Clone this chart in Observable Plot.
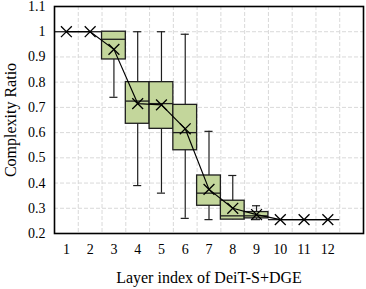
<!DOCTYPE html>
<html>
<head>
<meta charset="utf-8">
<script src="https://cdn.jsdelivr.net/npm/d3@7"></script>
<script src="https://cdn.jsdelivr.net/npm/@observablehq/plot@0.6"></script>
<style>
  html, body { margin: 0; padding: 0; background: #fff; }
</style>
</head>
<body>
<div id="chart"></div>
<script>
const layers      = [1, 2, 3, 4, 5, 6, 7, 8, 9, 10, 11, 12];
const whiskerLow  = [1.0, 1.0, 0.74, 0.39, 0.36, 0.26, 0.255, 0.255, 0.255, 0.255, 0.255, 0.255];
const q1          = [1.0, 1.0, 0.89, 0.635, 0.615, 0.53, 0.31, 0.255, 0.26, 0.255, 0.255, 0.255];
const median      = [1.0, 1.0, 0.97, 0.725, 0.715, 0.60, 0.36, 0.27, 0.27, 0.255, 0.255, 0.255];
const q3          = [1.0, 1.0, 1.0, 0.80, 0.80, 0.71, 0.43, 0.33, 0.285, 0.255, 0.255, 0.255];
const whiskerHigh = [1.0, 1.0, 1.0, 1.0, 1.0, 0.99, 0.605, 0.43, 0.31, 0.255, 0.255, 0.255];
const mean        = [1.0, 1.0, 0.93, 0.715, 0.71, 0.615, 0.375, 0.30, 0.275, 0.255, 0.255, 0.255];
const yTicks      = [0.2, 0.3, 0.4, 0.5, 0.6, 0.7, 0.8, 0.9, 1.0, 1.1];
const xLabel = "Layer index of DeiT-S+DGE";
const yLabel = "Complexity Ratio";

const data = layers.map((l, i) => ({
  layer: l, lo: whiskerLow[i], q1: q1[i], med: median[i], q3: q3[i], hi: whiskerHigh[i], mean: mean[i]
}));
const half = 0.5, cap = 0.17;
const gridX = layers.map(l => l + 0.5);
const gridY = yTicks.filter(v => v > 0.2 && v < 1.1);

const chart = Plot.plot({
  width: 366,
  height: 289,
  marginLeft: 54,
  marginRight: 3,
  marginTop: 6,
  marginBottom: 56,
  style: { fontFamily: "'Liberation Serif', 'Times New Roman', serif", fontSize: "14px", color: "#000", background: "#fff" },
  x: { domain: [0.5, 13.5], ticks: layers, tickSize: 0, tickPadding: 11, tickFormat: d => String(d), label: null },
  y: { domain: [0.2, 1.1], ticks: yTicks, tickSize: 0, tickPadding: 9, tickFormat: d => String(+d.toFixed(1)), label: null },
  marks: [
    Plot.ruleY(gridY, { y: d => d, stroke: "#d9d9d9", strokeWidth: 1, strokeDasharray: "4,2" }),
    Plot.ruleX(gridX, { x: d => d, stroke: "#d9d9d9", strokeWidth: 1, strokeDasharray: "4,2" }),
    Plot.ruleX(data, { x: "layer", y1: "lo", y2: "hi", stroke: "#1e1e1e", strokeWidth: 1.2 }),
    Plot.ruleY(data.filter(d => d.hi > d.q3), { y: "hi", x1: d => d.layer - cap, x2: d => d.layer + cap, stroke: "#1e1e1e", strokeWidth: 1.2 }),
    Plot.ruleY(data.filter(d => d.lo < d.q1), { y: "lo", x1: d => d.layer - cap, x2: d => d.layer + cap, stroke: "#1e1e1e", strokeWidth: 1.2 }),
    Plot.rect(data.filter(d => d.q3 > d.q1), { x1: d => d.layer - half, x2: d => d.layer + half, y1: "q1", y2: "q3", fill: "#c3d69b", stroke: "#1e1e1e", strokeWidth: 1.3 }),
    Plot.ruleY(data, { y: "med", x1: d => d.layer - half, x2: d => d.layer + half, stroke: "#1e1e1e", strokeWidth: 1.3 }),
    Plot.line(data, { x: "layer", y: "mean", stroke: "#000", strokeWidth: 1.2 }),
    Plot.dot(data, { x: "layer", y: "mean", symbol: "times", r: 5, stroke: "#000", strokeWidth: 1.3 }),
    Plot.frame({ stroke: "#000", strokeWidth: 1.6 }),
    Plot.axisX({ ticks: layers, tickSize: 0, tickPadding: 11, label: null, fontSize: 14 }),
    Plot.axisY({ ticks: yTicks, tickSize: 0, tickPadding: 9, label: null, fontSize: 14, tickFormat: d => String(+d.toFixed(1)) }),
    Plot.text([xLabel], { text: d => d, frameAnchor: "bottom", dy: 44, lineAnchor: "middle", textAnchor: "middle", fontSize: 16, fill: "#000" }),
    Plot.text([yLabel], { text: d => d, frameAnchor: "left", dx: -44, rotate: -90, lineAnchor: "middle", textAnchor: "middle", fontSize: 16, fill: "#000" })
  ]
});
document.getElementById("chart").appendChild(chart);
</script>
</body>
</html>
